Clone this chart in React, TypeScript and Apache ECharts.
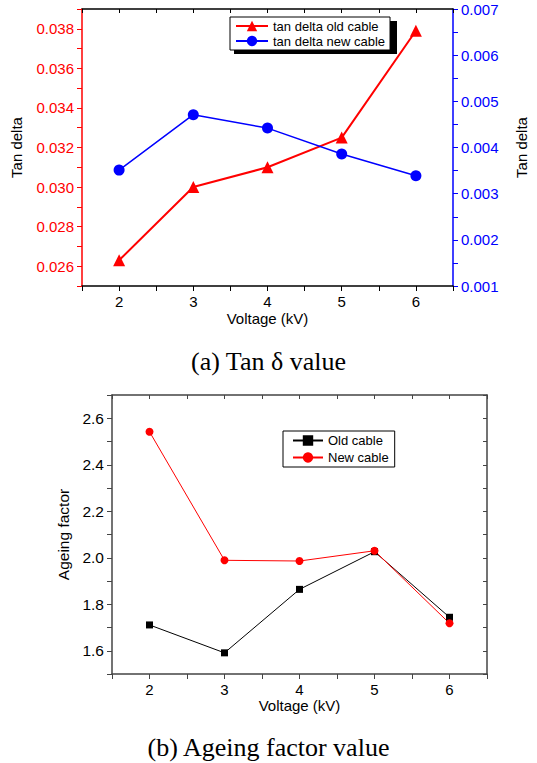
import React, { useEffect, useRef } from "react";
import * as echarts from "echarts";

const voltage = [2, 3, 4, 5, 6];
const tanDeltaOld = [0.0263, 0.0300, 0.0310, 0.0325, 0.0379];
const tanDeltaNew = [0.00351, 0.00471, 0.00442, 0.00386, 0.00339];
const ageingOld = [1.711, 1.591, 1.864, 2.026, 1.744];
const ageingNew = [2.542, 1.989, 1.986, 2.03, 1.718];
const captionA = "(a) Tan δ value";
const captionB = "(b) Ageing factor value";

const FONT = "Liberation Sans, Arial, sans-serif";
const SERIF = "Liberation Serif, Times New Roman, serif";

function pair(a: number[], b: number[]) {
  return a.map((v, i) => [v, b[i]]);
}

export default function App() {
  const ref = useRef<HTMLDivElement>(null);
  useEffect(() => {
    if (!ref.current) return;
    const chart = echarts.init(ref.current, null, { renderer: "svg" });
    const xLabel = (v: number) =>
      Math.abs(v - Math.round(v)) < 1e-6 ? String(Math.round(v)) : "";
    const frameGrey = "#444";
    const option: any = {
      animation: false,
      textStyle: { fontFamily: FONT },
      title: [
        {
          text: captionA,
          left: "center",
          top: 343,
          textStyle: { fontFamily: SERIF, fontSize: 26, fontWeight: "normal", color: "#000" },
        },
        {
          text: captionB,
          left: "center",
          top: 729,
          textStyle: { fontFamily: SERIF, fontSize: 26, fontWeight: "normal", color: "#000" },
        },
      ],
      grid: [
        { left: 82, top: 9, width: 382, height: 277 },
        { left: 112, top: 395, width: 375, height: 279 },
      ],
      legend: [
        {
          data: ["tan delta old cable", "tan delta new cable"],
          orient: "vertical",
          left: 230,
          top: 17,
          itemWidth: 32,
          itemHeight: 13,
          itemGap: 1,
          padding: [2, 5, 2, 5],
          backgroundColor: "#fff",
          borderColor: "#000",
          borderWidth: 1,
          borderRadius: 0,
          textStyle: { fontSize: 13, color: "#000", fontFamily: FONT, lineHeight: 14 },
          z: 10,
        },
        {
          data: ["Old cable", "New cable"],
          orient: "vertical",
          left: 283,
          top: 431,
          itemWidth: 30,
          itemHeight: 13,
          itemGap: 2,
          padding: [2, 6, 2, 9],
          backgroundColor: "#fff",
          borderColor: "#000",
          borderWidth: 1,
          borderRadius: 0,
          textStyle: { fontSize: 13, color: "#000", fontFamily: FONT, lineHeight: 15 },
          z: 10,
        },
      ],
      graphic: [
        {
          type: "rect",
          left: 234,
          top: 21,
          shape: { width: 163, height: 33 },
          style: { fill: "#000" },
          z: 5,
        },
      ],
      xAxis: [
        {
          gridIndex: 0,
          type: "value",
          position: "bottom",
          min: 1.5,
          max: 6.5,
          interval: 0.5,
          name: "Voltage (kV)",
          nameLocation: "middle",
          nameGap: 25,
          nameTextStyle: { fontSize: 15, color: "#000", fontFamily: FONT },
          axisLine: { lineStyle: { color: "#000", width: 1.5 } },
          axisTick: { show: true, inside: false, length: 5, lineStyle: { color: "#000" } },
          axisLabel: { formatter: xLabel, fontSize: 15, color: "#000", margin: 8, fontFamily: FONT },
          splitLine: { show: false },
        },
        {
          gridIndex: 0,
          type: "value",
          position: "top",
          min: 1.5,
          max: 6.5,
          interval: 0.5,
          axisLine: { lineStyle: { color: "#000", width: 1.5 } },
          axisTick: { show: true, inside: true, length: 4, lineStyle: { color: "#000" } },
          axisLabel: { show: false },
          splitLine: { show: false },
        },
        {
          gridIndex: 1,
          type: "value",
          position: "bottom",
          min: 1.5,
          max: 6.5,
          interval: 0.5,
          name: "Voltage (kV)",
          nameLocation: "middle",
          nameGap: 23,
          nameTextStyle: { fontSize: 15, color: "#000", fontFamily: FONT },
          axisLine: { lineStyle: { color: frameGrey, width: 1.5 } },
          axisTick: { show: true, inside: false, length: 5, lineStyle: { color: frameGrey } },
          axisLabel: { formatter: xLabel, fontSize: 15, color: "#000", margin: 8, fontFamily: FONT },
          splitLine: { show: false },
        },
        {
          gridIndex: 1,
          type: "value",
          position: "top",
          min: 1.5,
          max: 6.5,
          interval: 0.5,
          axisLine: { lineStyle: { color: frameGrey, width: 1.5 } },
          axisTick: { show: true, inside: true, length: 4, lineStyle: { color: frameGrey } },
          axisLabel: { show: false },
          splitLine: { show: false },
        },
      ],
      yAxis: [
        {
          gridIndex: 0,
          type: "value",
          position: "left",
          min: 0.025,
          max: 0.039,
          interval: 0.001,
          name: "Tan delta",
          nameLocation: "middle",
          nameRotate: 90,
          nameGap: 58,
          nameTextStyle: { fontSize: 15, color: "#000", fontFamily: FONT },
          axisLine: { show: true, lineStyle: { color: "#ff0000", width: 1.5 } },
          axisTick: { show: true, inside: false, length: 5, lineStyle: { color: "#ff0000" } },
          axisLabel: {
            fontSize: 15,
            color: "#ff0000",
            margin: 8,
            fontFamily: FONT,
            formatter: (v: number) => {
              const k = Math.round(v * 1000);
              return k % 2 === 0 ? (k / 1000).toFixed(3) : "";
            },
          },
          splitLine: { show: false },
        },
        {
          gridIndex: 0,
          type: "value",
          position: "right",
          min: 0.001,
          max: 0.007,
          interval: 0.0005,
          name: "Tan delta",
          nameLocation: "middle",
          nameRotate: 90,
          nameGap: 61,
          nameTextStyle: { fontSize: 15, color: "#000", fontFamily: FONT },
          axisLine: { show: true, lineStyle: { color: "#0000ff", width: 1.5 } },
          axisTick: { show: true, inside: false, length: 5, lineStyle: { color: "#0000ff" } },
          axisLabel: {
            fontSize: 15,
            color: "#0000ff",
            margin: 8,
            fontFamily: FONT,
            formatter: (v: number) => {
              const k = Math.round(v * 2000);
              return k % 2 === 0 ? (k / 2000).toFixed(3) : "";
            },
          },
          splitLine: { show: false },
        },
        {
          gridIndex: 1,
          type: "value",
          position: "left",
          min: 1.5,
          max: 2.7,
          interval: 0.1,
          name: "Ageing factor",
          nameLocation: "middle",
          nameRotate: 90,
          nameGap: 40,
          nameTextStyle: { fontSize: 15.5, color: "#000", fontFamily: FONT },
          axisLine: { show: true, lineStyle: { color: frameGrey, width: 1.5 } },
          axisTick: { show: true, inside: false, length: 5, lineStyle: { color: frameGrey } },
          axisLabel: {
            fontSize: 15.5,
            color: "#000",
            margin: 8,
            fontFamily: FONT,
            formatter: (v: number) => {
              const k = Math.round(v * 10);
              return k % 2 === 0 && k >= 16 && k <= 26 ? (k / 10).toFixed(1) : "";
            },
          },
          splitLine: { show: false },
        },
        {
          gridIndex: 1,
          type: "value",
          position: "right",
          min: 1.5,
          max: 2.7,
          interval: 0.1,
          axisLine: { show: true, lineStyle: { color: frameGrey, width: 1.5 } },
          axisTick: { show: true, inside: true, length: 4, lineStyle: { color: frameGrey } },
          axisLabel: { show: false },
          splitLine: { show: false },
        },
      ],
      series: [
        {
          name: "tan delta old cable",
          type: "line",
          xAxisIndex: 0,
          yAxisIndex: 0,
          data: pair(voltage, tanDeltaOld),
          symbol: "triangle",
          symbolSize: 12,
          itemStyle: { color: "#ff0000" },
          lineStyle: { color: "#ff0000", width: 2 },
        },
        {
          name: "tan delta new cable",
          type: "line",
          xAxisIndex: 0,
          yAxisIndex: 1,
          data: pair(voltage, tanDeltaNew),
          symbol: "circle",
          symbolSize: 11,
          itemStyle: { color: "#0000ff" },
          lineStyle: { color: "#0000ff", width: 1.5 },
        },
        {
          name: "Old cable",
          type: "line",
          xAxisIndex: 2,
          yAxisIndex: 2,
          data: pair(voltage, ageingOld),
          symbol: "rect",
          symbolSize: 7,
          itemStyle: { color: "#000" },
          lineStyle: { color: "#000", width: 1 },
        },
        {
          name: "New cable",
          type: "line",
          xAxisIndex: 2,
          yAxisIndex: 2,
          data: pair(voltage, ageingNew),
          symbol: "circle",
          symbolSize: 8,
          itemStyle: { color: "#ff0000" },
          lineStyle: { color: "#ff0000", width: 1 },
        },
      ],
    };
    chart.setOption(option);
    return () => chart.dispose();
  }, []);
  return (
    <div
      ref={ref}
      style={{ position: "fixed", left: 0, top: 0, width: 537, height: 763, background: "#fff" }}
    />
  );
}
